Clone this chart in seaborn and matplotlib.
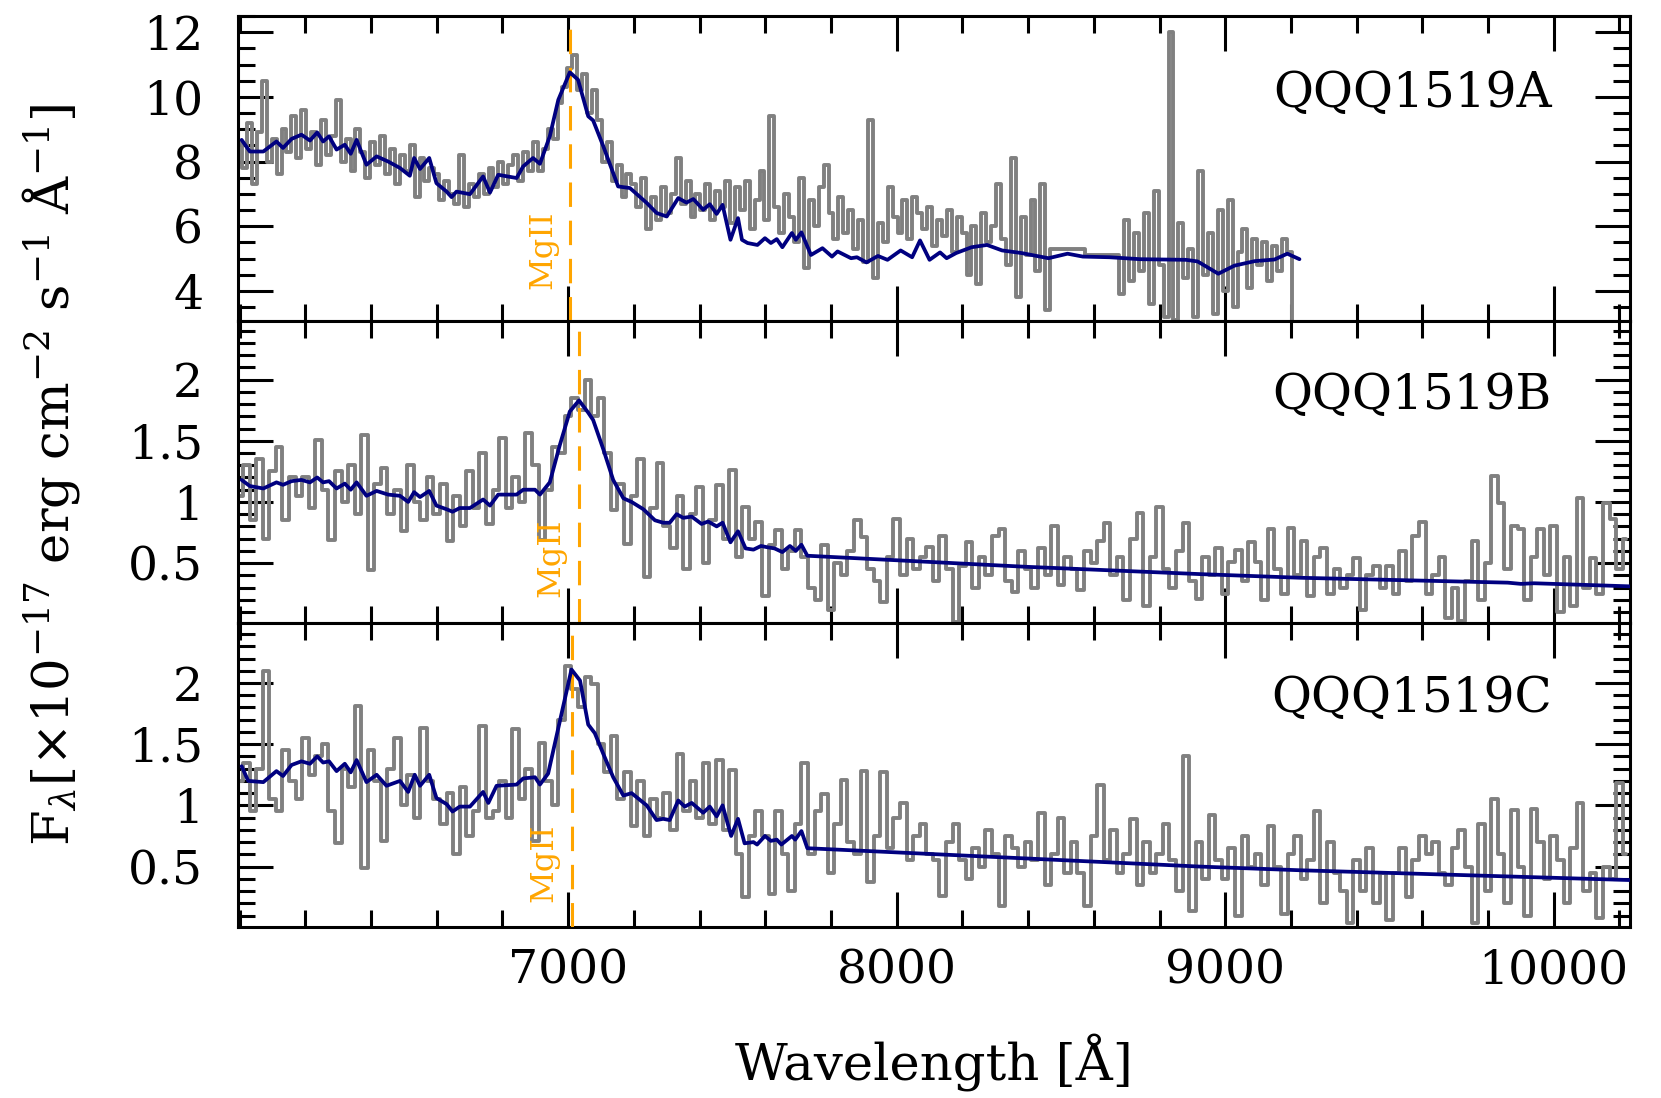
import numpy as np
import matplotlib
matplotlib.use("Agg")
import matplotlib.pyplot as plt
import matplotlib.transforms as mtransforms
from matplotlib.ticker import MultipleLocator, FixedLocator, FixedFormatter
import seaborn as sns

# quasar names and MgII line positions
names = ["QQQ1519A", "QQQ1519B", "QQQ1519C"]
mgii_wave = [7007, 7033, 7012]

# observed spectra (grey, binned)
wave_a = np.arange(6000, 9211, 15)
flux_a = [8.6, 7.8, 9.2, 7.3, 8.9, 10.5, 8.0, 8.7, 7.6, 9.0,
          8.3, 9.4, 8.1, 9.6, 8.4, 8.9, 7.9, 9.3, 8.2, 8.8,
          9.9, 8.0, 8.7, 7.7, 9.0, 8.3, 7.5, 8.6, 7.9, 8.8,
          7.6, 8.4, 7.3, 8.2, 7.7, 8.5, 6.9, 8.1, 7.4, 7.8,
          7.6, 6.8, 7.4, 7.0, 6.7, 8.2, 6.6, 7.3, 6.9, 7.6,
          7.0, 7.8, 7.2, 8.0, 7.3, 7.9, 8.2, 7.4, 8.3, 7.7,
          8.6, 7.7, 8.4, 9.0, 8.7, 9.8, 10.3, 10.9, 11.3, 10.2,
          10.7, 9.5, 10.2, 9.3, 8.0, 8.6, 7.4, 7.9, 6.9, 7.6,
          7.3, 6.6, 7.5, 5.9, 6.9, 6.2, 7.2, 6.4, 7.0, 8.1,
          6.7, 7.4, 6.3, 7.0, 6.5, 7.3, 6.2, 7.1, 6.6, 7.4,
          6.1, 7.2, 6.5, 7.4, 5.9, 6.8, 7.7, 6.2, 9.4, 6.6,
          5.8, 7.0, 6.3, 5.5, 7.5, 4.7, 6.8, 6.0, 7.2, 7.9,
          6.4, 5.6, 6.9, 5.8, 6.5, 5.3, 6.2, 4.9, 9.3, 4.4,
          6.1, 5.5, 7.2, 6.3, 5.8, 6.8, 5.6, 6.9, 6.4, 5.9,
          6.6, 5.4, 6.2, 5.7, 6.5, 5.2, 6.3, 5.8, 4.5, 6.0,
          4.2, 6.4, 5.5, 6.0, 7.3, 5.6, 4.8, 8.1, 3.8, 6.3,
          5.1, 6.8, 4.6, 7.3, 3.4, 5.3, 5.3, 5.3, 5.3, 5.3,
          5.3, 5.3, 5.1, 5.1, 5.1, 5.1, 5.1, 5.1, 5.1, 3.9,
          6.2, 4.3, 5.8, 4.6, 6.4, 3.6, 7.1, 4.8, 3.2, 12.0,
          3.1, 6.1, 4.4, 5.3, 3.2, 7.7, 4.5, 5.8, 3.3, 6.5,
          4.0, 6.8, 3.5, 5.2, 5.9, 4.1, 5.6, 4.8, 5.5, 4.3,
          5.4, 4.6, 5.6, 5.2, 2.9]

wave_bc = np.arange(6000, 10221, 20)
flux_b = [1.05, 1.30, 0.85, 1.35, 0.70, 1.25, 1.45, 0.85, 1.20, 1.05,
          1.20, 0.95, 1.51, 1.10, 0.69, 1.25, 1.00, 1.30, 0.90, 1.55,
          0.44, 1.15, 1.28, 0.90, 1.10, 0.76, 1.30, 1.00, 0.85, 1.20,
          0.90, 1.15, 0.68, 1.05, 0.80, 1.25, 0.95, 1.40, 0.82, 1.10,
          1.52, 0.95, 1.20, 1.00, 1.56, 1.30, 0.69, 1.10, 1.45, 1.40,
          1.70, 1.85, 1.75, 2.00, 1.70, 1.85, 1.40, 0.93, 1.15, 0.66,
          1.05, 1.35, 0.39, 0.95, 1.32, 0.80, 0.62, 1.05, 0.45, 0.90,
          1.12, 0.50, 0.85, 1.14, 0.70, 1.26, 0.55, 0.96, 0.70, 0.84,
          0.23, 0.65, 0.77, 0.45, 0.60, 0.77, 0.55, 0.30, 0.20, 0.65,
          0.12, 0.50, 0.40, 0.60, 0.85, 0.71, 0.45, 0.35, 0.18, 0.55,
          0.86, 0.40, 0.70, 0.45, 0.55, 0.63, 0.35, 0.72, 0.45, 0.02,
          0.48, 0.67, 0.30, 0.55, 0.40, 0.72, 0.78, 0.35, 0.26, 0.60,
          0.45, 0.30, 0.62, 0.40, 0.80, 0.32, 0.55, 0.45, 0.28, 0.60,
          0.50, 0.68, 0.83, 0.40, 0.55, 0.20, 0.70, 0.91, 0.15, 0.55,
          0.96, 0.45, 0.30, 0.60, 0.83, 0.35, 0.21, 0.55, 0.40, 0.62,
          0.25, 0.51, 0.61, 0.35, 0.67, 0.51, 0.20, 0.78, 0.45, 0.25,
          0.79, 0.40, 0.68, 0.23, 0.55, 0.62, 0.25, 0.45, 0.30, 0.40,
          0.54, 0.12, 0.40, 0.48, 0.30, 0.48, 0.25, 0.60, 0.35, 0.72,
          0.84, 0.25, 0.40, 0.55, 0.05, 0.30, 0.03, 0.35, 0.68, 0.20,
          0.50, 1.21, 0.99, 0.45, 0.80, 0.78, 0.20, 0.55, 0.78, 0.40,
          0.80, 0.10, 0.55, 0.15, 1.03, 0.30, 0.54, 0.25, 0.99, 0.86,
          0.45, 0.70]
flux_c = [1.20, 1.35, 0.95, 1.30, 2.10, 1.05, 0.95, 1.45, 1.20, 1.05,
          1.55, 1.25, 1.40, 1.50, 0.95, 0.69, 1.30, 1.15, 1.81, 0.49,
          1.45, 1.20, 0.71, 1.30, 1.55, 1.00, 1.25, 0.90, 1.63, 1.20,
          1.05, 0.85, 1.10, 0.60, 1.15, 0.75, 0.95, 1.65, 0.90, 0.95,
          1.20, 0.90, 1.62, 1.05, 1.30, 0.71, 1.51, 1.20, 1.00, 1.70,
          2.14, 1.95, 1.80, 2.05, 1.99, 1.50, 1.27, 1.57, 1.05, 1.27,
          0.83, 1.20, 0.75, 1.05, 0.90, 1.10, 0.80, 1.42, 0.95, 1.20,
          0.90, 1.35, 0.85, 1.37, 0.80, 1.29, 0.60, 0.25, 0.75, 0.95,
          0.75, 0.28, 0.95, 0.60, 0.30, 0.85, 1.35, 0.60, 0.95, 1.09,
          0.45, 0.85, 1.21, 0.70, 0.60, 1.28, 0.37, 0.75, 1.27, 0.65,
          0.90, 1.02, 0.55, 0.75, 0.85, 0.60, 0.55, 0.26, 0.70, 0.85,
          0.55, 0.40, 0.65, 0.50, 0.80, 0.60, 0.18, 0.75, 0.65, 0.50,
          0.70, 0.55, 0.94, 0.35, 0.60, 0.90, 0.45, 0.70, 0.45, 0.18,
          0.75, 1.17, 0.55, 0.80, 0.45, 0.60, 0.89, 0.35, 0.70, 0.45,
          0.60, 0.85, 0.55, 0.30, 1.40, 0.14, 0.70, 0.40, 0.92, 0.55,
          0.40, 0.65, 0.10, 0.75, 0.50, 0.60, 0.35, 0.83, 0.50, 0.11,
          0.60, 0.75, 0.40, 0.55, 0.95, 0.20, 0.70, 0.45, 0.30, 0.04,
          0.55, 0.30, 0.65, 0.20, 0.45, 0.06, 0.45, 0.65, 0.25, 0.55,
          0.75, 0.60, 0.70, 0.45, 0.35, 0.65, 0.80, 0.50, 0.04, 0.85,
          0.30, 1.05, 0.60, 0.20, 0.96, 0.50, 0.10, 0.97, 0.70, 0.40,
          0.75, 0.55, 0.20, 0.65, 1.02, 0.30, 0.45, 0.08, 0.50, 0.40,
          1.18, 0.60]

# model fits (navy)
model_wave_a = [6006, 6031, 6072, 6112, 6132, 6158, 6188, 6214, 6236, 6254,
                6272, 6295, 6320, 6338, 6356, 6386, 6417, 6452, 6488, 6518,
                6531, 6549, 6577, 6599, 6630, 6645, 6660, 6701, 6741, 6762,
                6787, 6843, 6863, 6893, 6914, 6944, 6970, 7005, 7030, 7061,
                7076, 7107, 7152, 7188, 7239, 7269, 7300, 7335, 7360, 7381,
                7411, 7431, 7452, 7470, 7494, 7517, 7529, 7546, 7576, 7599,
                7617, 7635, 7652, 7681, 7693, 7710, 7739, 7774, 7803, 7820,
                7861, 7879, 7908, 7943, 7972, 8012, 8047, 8071, 8100, 8132,
                8152, 8181, 8228, 8275, 8321, 8380, 8462, 8520, 8567, 8648,
                8741, 8881, 8916, 8979, 9028, 9090, 9150, 9189, 9226]
model_flux_a = [8.67, 8.31, 8.31, 8.62, 8.42, 8.70, 8.83, 8.65, 8.90, 8.62,
                8.78, 8.37, 8.52, 8.24, 8.67, 7.90, 8.16, 8.00, 7.80, 7.56,
                8.11, 7.77, 8.11, 7.33, 7.07, 6.90, 7.07, 6.99, 7.54, 7.04,
                7.59, 7.49, 7.85, 8.11, 7.93, 8.78, 9.91, 10.76, 10.53, 9.40,
                9.27, 8.47, 7.23, 7.18, 6.72, 6.41, 6.30, 6.87, 6.73, 6.84,
                6.51, 6.68, 6.38, 6.66, 5.58, 6.25, 5.58, 5.48, 5.42, 5.63,
                5.48, 5.60, 5.35, 5.79, 5.58, 5.81, 5.11, 5.32, 5.06, 5.22,
                5.01, 5.04, 4.88, 5.08, 4.96, 5.25, 5.04, 5.56, 4.96, 5.19,
                5.01, 5.17, 5.35, 5.42, 5.25, 5.17, 5.01, 5.15, 5.06, 5.04,
                4.98, 4.96, 4.91, 4.53, 4.78, 4.92, 4.97, 5.15, 4.98]

model_wave_b = [6006, 6031, 6072, 6112, 6132, 6158, 6188, 6214, 6236, 6254,
                6272, 6295, 6320, 6338, 6356, 6386, 6417, 6452, 6488, 6513,
                6531, 6549, 6577, 6599, 6630, 6648, 6670, 6701, 6741, 6762,
                6787, 6843, 6863, 6899, 6914, 6944, 6974, 7005, 7033, 7061,
                7076, 7107, 7137, 7168, 7193, 7229, 7264, 7289, 7309, 7330,
                7350, 7376, 7406, 7426, 7452, 7470, 7494, 7517, 7540, 7564,
                7587, 7605, 7628, 7652, 7675, 7693, 7710, 7728, 8391, 8922,
                9227, 9860, 9900, 9940, 10230]
model_flux_b = [1.18, 1.13, 1.11, 1.16, 1.14, 1.17, 1.18, 1.16, 1.20, 1.16,
                1.17, 1.11, 1.15, 1.10, 1.16, 1.05, 1.09, 1.06, 1.05, 1.00,
                1.08, 1.04, 1.09, 0.97, 0.94, 0.92, 0.95, 0.95, 1.02, 0.97,
                1.06, 1.06, 1.10, 1.10, 1.06, 1.16, 1.46, 1.74, 1.83, 1.73,
                1.67, 1.43, 1.18, 1.03, 1.00, 0.94, 0.85, 0.83, 0.83, 0.90,
                0.87, 0.88, 0.82, 0.84, 0.80, 0.83, 0.67, 0.76, 0.62, 0.61,
                0.64, 0.63, 0.62, 0.59, 0.64, 0.60, 0.65, 0.56, 0.47, 0.41,
                0.38, 0.34, 0.33, 0.335, 0.31]

model_wave_c = [6006, 6026, 6072, 6112, 6132, 6158, 6188, 6214, 6236, 6254,
                6272, 6295, 6320, 6338, 6356, 6386, 6417, 6447, 6488, 6513,
                6533, 6549, 6577, 6599, 6630, 6648, 6670, 6701, 6741, 6757,
                6782, 6843, 6863, 6899, 6914, 6939, 6974, 7010, 7036, 7061,
                7081, 7107, 7137, 7168, 7193, 7239, 7269, 7289, 7309, 7335,
                7355, 7376, 7411, 7431, 7452, 7470, 7496, 7517, 7537, 7564,
                7575, 7599, 7617, 7635, 7649, 7681, 7691, 7710, 7728, 8923,
                9227, 10230]
model_flux_c = [1.32, 1.20, 1.19, 1.28, 1.24, 1.33, 1.36, 1.34, 1.40, 1.35,
                1.36, 1.28, 1.34, 1.27, 1.37, 1.19, 1.25, 1.16, 1.20, 1.11,
                1.25, 1.16, 1.25, 1.06, 1.01, 0.95, 0.99, 0.99, 1.11, 1.02,
                1.16, 1.17, 1.22, 1.23, 1.17, 1.26, 1.68, 2.11, 2.02, 1.66,
                1.59, 1.42, 1.23, 1.08, 1.10, 1.00, 0.88, 0.89, 0.88, 1.04,
                0.99, 1.02, 0.94, 0.99, 0.91, 1.00, 0.75, 0.89, 0.69, 0.70,
                0.68, 0.75, 0.71, 0.72, 0.68, 0.75, 0.72, 0.79, 0.65, 0.50,
                0.47, 0.39]

# axis ticks
x_ticks = [7000, 8000, 9000, 10000]
x_ticklabels = ["7000", "8000", "9000", "10000"]
y_ticks = [[4, 6, 8, 10, 12], [0.5, 1, 1.5, 2], [0.5, 1, 1.5, 2]]
y_ticklabels = [["4", "6", "8", "10", "12"], ["0.5", "1", "1.5", "2"], ["0.5", "1", "1.5", "2"]]
y_minor = [0.5, 0.1, 0.1]
y_limits = [(3.07, 12.5), (0.01, 2.48), (0.006, 2.49)]
x_limits = (5995, 10232)

sns.set_style("ticks")
plt.rcParams["font.family"] = ["DejaVu Serif"]
plt.rcParams["mathtext.fontset"] = "dejavuserif"
for key in ["text.color", "axes.labelcolor", "xtick.color", "ytick.color", "axes.edgecolor"]:
    plt.rcParams[key] = "black"

fig = plt.figure(figsize=(16.61, 10.98), dpi=100)
positions = [[0.1433, 0.7077, 0.8380, 0.2777],
             [0.1433, 0.4326, 0.8380, 0.2751],
             [0.1433, 0.1557, 0.8380, 0.2769]]

spectra = [(wave_a, flux_a), (wave_bc, flux_b), (wave_bc, flux_c)]
models = [(model_wave_a, model_flux_a), (model_wave_b, model_flux_b), (model_wave_c, model_flux_c)]
label_y = [0.105, 0.085, 0.082]
name_y = [0.745, 0.752, 0.752]

for i in range(3):
    ax = fig.add_axes(positions[i])
    w, f = spectra[i]
    sns.lineplot(x=w, y=f, ax=ax, color="#808080", linewidth=2.8, drawstyle="steps-mid",
                 estimator=None, sort=False, zorder=2)
    ax.axvline(mgii_wave[i], color="orange", linewidth=2.2, ls=(0, (8, 4.5)), zorder=3)
    mw, mf = models[i]
    sns.lineplot(x=mw, y=mf, ax=ax, color="#000080", linewidth=2.7, estimator=None,
                 sort=False, zorder=4)

    trans = mtransforms.blended_transform_factory(ax.transData, ax.transAxes)
    ax.text(mgii_wave[i] - 38, label_y[i], "MgII", color="orange", rotation=90,
            ha="right", va="bottom", fontsize=23, transform=trans)
    ax.text(0.944, name_y[i], names[i], transform=ax.transAxes, ha="right", va="center",
            fontsize=35)

    ax.set_xlim(*x_limits)
    ax.set_ylim(*y_limits[i])
    ax.xaxis.set_major_locator(FixedLocator(x_ticks))
    ax.xaxis.set_minor_locator(MultipleLocator(200))
    ax.yaxis.set_major_locator(FixedLocator(y_ticks[i]))
    ax.yaxis.set_major_formatter(FixedFormatter(y_ticklabels[i]))
    ax.yaxis.set_minor_locator(MultipleLocator(y_minor[i]))
    ax.tick_params(which="both", direction="in", top=True, right=True, width=2.2)
    ax.tick_params(which="major", length=25)
    ax.tick_params(which="minor", length=12)
    ax.tick_params(axis="y", labelsize=34, pad=25)
    ax.tick_params(axis="x", labelsize=34, pad=15)
    for s in ax.spines.values():
        s.set_linewidth(2.2)
    ax.set_xlabel("")
    ax.set_ylabel("")
    if i < 2:
        ax.set_xticklabels([])
    else:
        ax.xaxis.set_major_formatter(FixedFormatter(x_ticklabels))

fig.text(0.031, 0.568, r"F$_\lambda$[×10$^{-17}$ erg cm$^{-2}$ s$^{-1}$ Å$^{-1}$]",
         rotation=90, ha="center", va="center", fontsize=37)
fig.text(0.5625, 0.033, "Wavelength [Å]", ha="center", va="center", fontsize=37)

fig.savefig("out.png", dpi=100)
